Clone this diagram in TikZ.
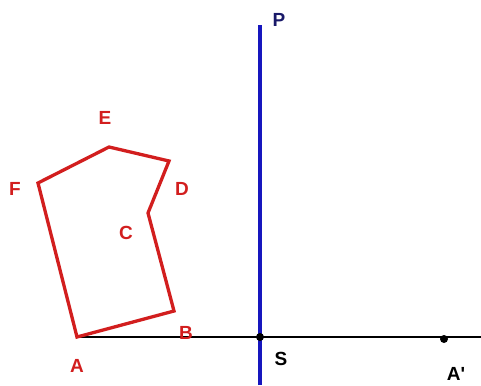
\documentclass[tikz,border=0pt]{standalone}
\usepackage{fontspec}
\setmainfont{Liberation Sans}
\usepackage{xcolor}
\usepackage{tikz}
\usetikzlibrary{positioning}

\definecolor{figred}{RGB}{210,30,30}
\definecolor{axisblue}{RGB}{22,22,190}
\definecolor{pnavy}{RGB}{25,25,105}

\begin{document}
\begin{tikzpicture}[x=1pt, y=-1pt,
  figline/.style={line width=3.3pt, figred, line join=miter},
  axisline/.style={line width=3.3pt, axisblue},
  baseline/.style={line width=2pt, black},
  dot/.style={fill=black, circle, inner sep=0pt, minimum size=8pt},
  lbl/.style={font=\fontsize{19}{19}\selectfont\bfseries, inner sep=0pt}
]
  \useasboundingbox (0,0) rectangle (481,385);

  % ======= Punkte =======
  \coordinate (A) at (77,337);
  \coordinate (B) at (174,311);
  \coordinate (C) at (148,213);
  \coordinate (D) at (169,161);
  \coordinate (E) at (109,147);
  \coordinate (F) at (38,183);
  \coordinate (Pbot) at (260,385);
  \coordinate (Ptop) at (260,25);
  \coordinate (Rend) at (481,337);

  % Gerade durch A und Spiegelachse
  \draw[baseline] (A) -- (Rend);
  \draw[axisline] (Pbot) -- (Ptop);

  % Figur
  \draw[figline] (A) -- (B) -- (C) -- (D) -- (E) -- (F) -- cycle;

  % Punkte auf der Geraden
  \node[dot] (S) at (260,337) {};
  \node[dot] (Abild) at (444,339) {};

  % Beschriftungen
  \node[lbl, pnavy] (lP) at (279,20) {P};
  \node[lbl] (lS) at (281,359) {S};
  \node[lbl] (lA2) at (456,374) {A\textquotesingle};
  \node[lbl, figred] (lA) at (77,366) {A};
  \node[lbl, figred] (lB) at (186,333) {B};
  \node[lbl, figred] (lC) at (126,233) {C};
  \node[lbl, figred] (lD) at (182,189) {D};
  \node[lbl, figred] (lE) at (105,118) {E};
  \node[lbl, figred] (lF) at (15,189) {F};
\end{tikzpicture}
\end{document}
